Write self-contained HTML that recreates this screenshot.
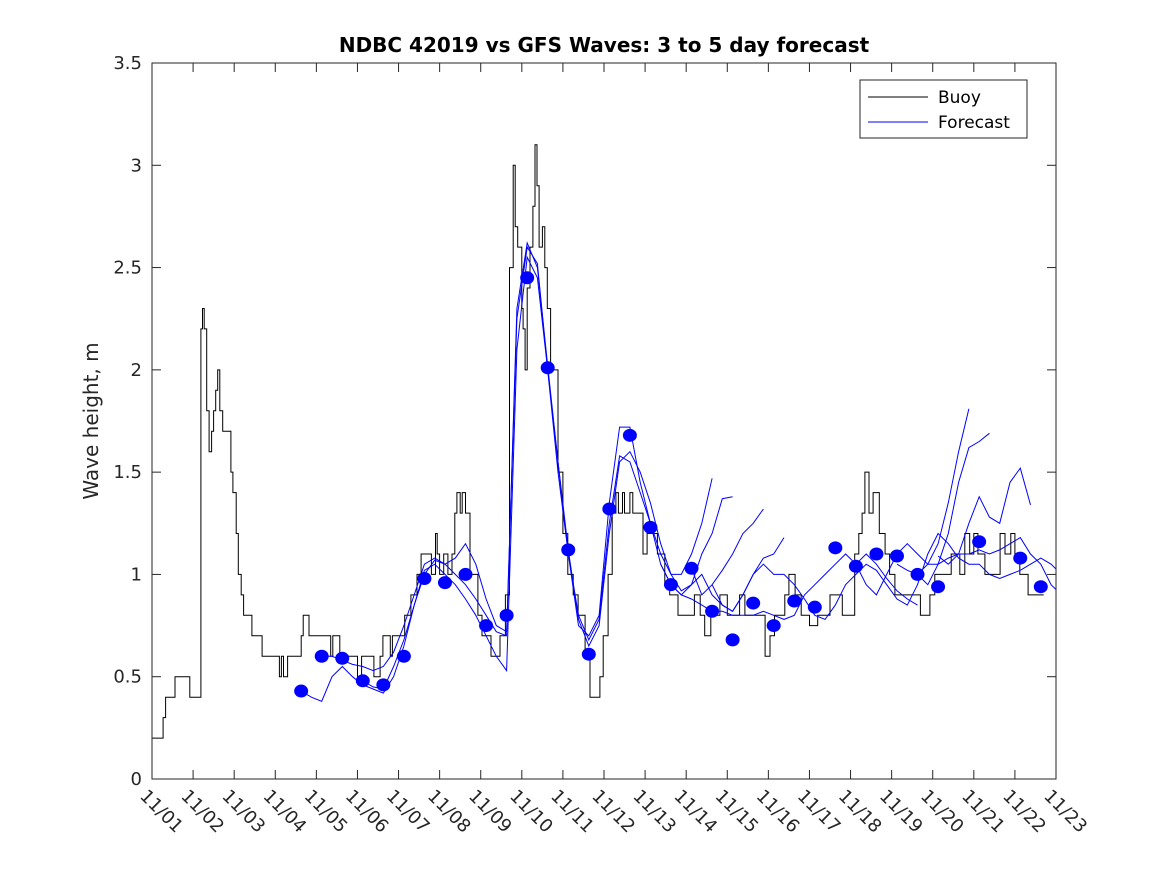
<!DOCTYPE html>
<html><head><meta charset="utf-8"><style>
html,body{margin:0;padding:0;background:#fff;}
svg{display:block;font-family:"DejaVu Sans","Liberation Sans",sans-serif;}
</style></head><body>
<svg id="chart" width="1167" height="875">
<defs><clipPath id="clip"><rect x="152" y="63" width="904" height="716"/></clipPath></defs>
<rect width="1167" height="875" fill="#fff"/>
<text x="604" y="52" text-anchor="middle" font-size="20" font-weight="bold" fill="#000">NDBC 42019 vs GFS Waves: 3 to 5 day forecast</text>
<text transform="translate(98,421) rotate(-90)" text-anchor="middle" font-size="20" fill="#262626">Wave height, m</text>
<g id="plot" clip-path="url(#clip)"></g>
<g id="axes"></g>
<g>
<rect x="860" y="80" width="167" height="58" fill="#fff" stroke="#262626" stroke-width="1"/>
<line x1="868" y1="97" x2="928" y2="97" stroke="#000" stroke-width="1"/>
<text x="938" y="103" font-size="17" fill="#000">Buoy</text>
<line x1="868" y1="122" x2="928" y2="122" stroke="#00f" stroke-width="1"/>
<text x="938" y="128" font-size="17" fill="#000">Forecast</text>
</g>
</svg>
<script>
const xTickLabels=["11/01","11/02","11/03","11/04","11/05","11/06","11/07","11/08","11/09","11/10","11/11","11/12","11/13","11/14","11/15","11/16","11/17","11/18","11/19","11/20","11/21","11/22","11/23"];
const yTicks=[0,0.5,1,1.5,2,2.5,3,3.5];
const yTickLabels=["0","0.5","1","1.5","2","2.5","3","3.5"];
const buoyDays=[0,0.27,0.33,0.56,0.92,1.12,1.19,1.23,1.27,1.33,1.39,1.45,1.5,1.55,1.6,1.65,1.72,1.85,1.92,1.97,2.0,2.05,2.1,2.17,2.23,2.3,2.43,2.48,2.68,2.75,3.1,3.15,3.2,3.3,3.35,3.55,3.63,3.68,3.82,3.85,4.3,4.35,4.4,4.57,4.9,5.0,5.1,5.35,5.4,5.55,5.62,5.8,5.85,6.0,6.15,6.3,6.45,6.55,6.7,6.8,6.9,6.94,7.0,7.1,7.2,7.3,7.37,7.42,7.5,7.55,7.63,7.74,7.93,8.03,8.2,8.25,8.47,8.6,8.7,8.79,8.84,8.9,9.0,9.03,9.08,9.13,9.2,9.27,9.32,9.37,9.42,9.5,9.56,9.62,9.7,9.88,10.0,10.12,10.25,10.37,10.54,10.66,10.83,10.9,10.98,11.1,11.2,11.29,11.35,11.45,11.5,11.63,11.7,11.88,11.95,12.05,12.2,12.3,12.48,12.6,12.8,13.1,13.2,13.34,13.45,13.6,13.82,14.0,14.3,14.43,14.6,14.92,15.04,15.15,15.4,15.5,15.65,15.8,16.0,16.2,16.5,16.8,17.1,17.2,17.28,17.35,17.45,17.55,17.7,17.84,17.95,18.08,18.33,18.5,18.7,18.93,19.05,19.3,19.45,19.66,19.78,19.9,20.0,20.1,20.27,20.4,20.64,20.76,20.9,21.0,21.12,21.2,21.32,21.5,21.7,22];
const buoyVals=[0.2,0.3,0.4,0.5,0.4,0.4,2.2,2.3,2.2,1.8,1.6,1.7,1.8,1.9,2.0,1.8,1.7,1.7,1.5,1.4,1.4,1.2,1.0,0.9,0.8,0.8,0.7,0.7,0.6,0.6,0.5,0.6,0.5,0.6,0.6,0.6,0.7,0.8,0.7,0.7,0.7,0.6,0.7,0.6,0.6,0.5,0.6,0.6,0.5,0.6,0.7,0.6,0.7,0.7,0.8,0.9,1.0,1.1,1.1,1.0,1.2,1.1,1.0,1.1,1.0,1.1,1.3,1.4,1.3,1.4,1.3,1.0,0.8,0.7,0.7,0.6,0.7,0.9,2.5,3.0,2.7,2.6,2.3,2.2,2.0,2.4,2.6,2.8,3.1,2.9,2.6,2.7,2.5,2.3,2.0,1.5,1.2,1.0,0.9,0.8,0.6,0.4,0.4,0.5,0.7,1.0,1.3,1.4,1.3,1.4,1.3,1.4,1.3,1.3,1.1,1.2,1.2,1.1,0.95,0.9,0.8,0.8,0.9,0.8,0.7,0.8,0.9,0.8,0.9,0.8,0.8,0.6,0.7,0.8,0.9,1.0,0.9,0.8,0.75,0.8,0.9,0.8,1.1,1.2,1.3,1.5,1.3,1.4,1.2,1.1,1.0,0.9,0.9,0.9,0.8,0.9,1.0,1.0,1.1,1.0,1.2,1.1,1.2,1.1,1.0,1.0,1.2,1.1,1.2,1.1,1.0,1.0,0.9,0.9];
const dotDays=[3.63,4.13,4.63,5.13,5.63,6.13,6.63,7.13,7.63,8.13,8.63,9.13,9.63,10.13,10.63,11.13,11.63,12.13,12.63,13.13,13.63,14.13,14.63,15.13,15.63,16.13,16.63,17.13,17.63,18.13,18.63,19.13,20.13,21.13,21.63];
const dotVals=[0.43,0.60,0.59,0.48,0.46,0.60,0.98,0.96,1.00,0.75,0.80,2.45,2.01,1.12,0.61,1.32,1.68,1.23,0.95,1.03,0.82,0.68,0.86,0.75,0.87,0.84,1.13,1.04,1.10,1.09,1.00,0.94,1.16,1.08,0.94];
const f1Start=3.63, f1=[0.43,0.40,0.38,0.50,0.55,0.50,0.46,0.44,0.42,0.50,0.65,0.85,1.02,1.05,1.00,0.95,0.88,0.80,0.70,0.60,0.53,2.10,2.55,2.45,2.00,1.55,1.10,0.80,0.68,0.78,1.25,1.58,1.55,1.40,1.25,1.05,0.95,0.90,0.88,0.85,0.82,0.82,0.80,0.80,0.80,0.82,0.80,0.78,0.80,0.90,0.95,1.00,1.05,1.10,1.05,0.95,0.90,1.00,1.10,1.15,1.10,1.05,1.05,1.08,1.10,1.10,1.12,1.10,1.12,1.15,1.18,1.10,1.05,0.95,0.90,0.87,0.85];
const f2Start=4.13, f2=[0.60,0.60,0.58,0.56,0.55,0.53,0.55,0.62,0.75,0.90,1.05,1.08,1.05,1.00,0.95,0.88,0.80,0.72,0.70,2.30,2.62,2.50,2.02,1.55,1.12,0.78,0.65,0.75,1.20,1.55,1.60,1.50,1.35,1.15,1.00,0.92,0.95,1.00,0.90,0.85,0.82,0.90,1.00,1.05,1.00,1.00,0.95,0.88,0.80,0.78,0.85,0.95,1.00,1.05,1.02,0.95,0.88,0.85,0.95,1.10,1.20,1.15,1.08,1.05,1.05,1.00,0.98,1.00,1.02,1.05,1.08,1.05,1.00,0.95,0.92,0.90,0.88];
const f3Start=5.13, f3=[0.48,0.45,0.44,0.55,0.68,0.85,1.00,1.07,1.05,1.08,1.15,1.05,0.88,0.75,0.72,2.25,2.60,2.52,2.00,1.50,1.10,0.75,0.70,0.80,1.35,1.72,1.72,1.45,1.25,1.10,1.00,1.00,1.10,1.25,1.47];
const f4Start=12.38, f4=[1.05,0.95,0.90,0.95,1.10,1.20,1.37,1.38];
const f5Start=13.13, f5=[1.03,0.90,0.95,1.02,1.10,1.20,1.25,1.32];
const f6Start=13.63, f6=[0.95,0.85,0.82,0.90,1.00,1.08,1.10,1.18];
const f7Start=18.13, f7=[1.05,1.02,1.00,1.05,1.15,1.35,1.60,1.81];
const f8Start=18.63, f8=[1.00,0.95,1.05,1.20,1.45,1.62,1.65,1.69];
const f9Start=19.13, f9=[1.09,1.05,1.10,1.25,1.38,1.28,1.25,1.45,1.52,1.34];
const f10Start=17.13, f10=[1.05,1.10,1.05,0.98,0.92,0.88,0.85];

const NS="http://www.w3.org/2000/svg";
const L=152,R=1056,T=63,B=779;
const xs=d=>L+d*(R-L)/22;
const ys=v=>B-v*(B-T)/3.5;
const plot=document.getElementById('plot'), axes=document.getElementById('axes');
function mk(tag,attrs,parent){const e=document.createElementNS(NS,tag);for(const k in attrs)e.setAttribute(k,attrs[k]);parent.appendChild(e);return e;}

let d="";
buoyDays.forEach((t,i)=>{const x=xs(t).toFixed(1),y=ys(buoyVals[i]).toFixed(1);
 if(i===0)d+="M"+x+","+y;else d+="H"+x+"V"+y;});
d+="H"+xs(22).toFixed(1);
const bl=mk('path',{d:d,fill:"none",stroke:"#000","stroke-width":1},plot);



[[f1Start,f1],[f2Start,f2],[f3Start,f3],[f4Start,f4],[f5Start,f5],[f6Start,f6],[f7Start,f7],[f8Start,f8],[f9Start,f9],[f10Start,f10]].forEach((s,k)=>{
 const pts=s[1].map((v,i)=>xs(s[0]+i*0.25).toFixed(1)+","+ys(v).toFixed(1)).join(" ");
 const pl=mk('polyline',{points:pts,fill:"none",stroke:"#00f","stroke-width":1},plot);
 
 
});
dotDays.forEach((t,i)=>{
 const c=mk('ellipse',{cx:xs(t),cy:ys(dotVals[i]),rx:7,ry:6.5,fill:"#00f"},plot);
 
 
});

const box=mk('rect',{x:L,y:T,width:R-L,height:B-T,fill:"none",stroke:"#262626","stroke-width":1},axes);


xTickLabels.forEach((lab,i)=>{
 const x=xs(i);
 mk('line',{x1:x,y1:B,x2:x,y2:B-9,stroke:"#262626"},axes);
 mk('line',{x1:x,y1:T,x2:x,y2:T+9,stroke:"#262626"},axes);
 const tx=mk('text',{transform:"translate("+(x-13)+",797) rotate(45)","font-size":18,fill:"#262626"},axes);
 tx.textContent=lab;
 
 
});
yTicks.forEach((v,i)=>{
 const y=ys(v);
 mk('line',{x1:L,y1:y,x2:L+9,y2:y,stroke:"#262626"},axes);
 mk('line',{x1:R,y1:y,x2:R-9,y2:y,stroke:"#262626"},axes);
 const tx=mk('text',{x:L-10,y:y+6,"text-anchor":"end","font-size":18,fill:"#262626"},axes);
 tx.textContent=yTickLabels[i];
 
 
});
</script>
</body></html>
